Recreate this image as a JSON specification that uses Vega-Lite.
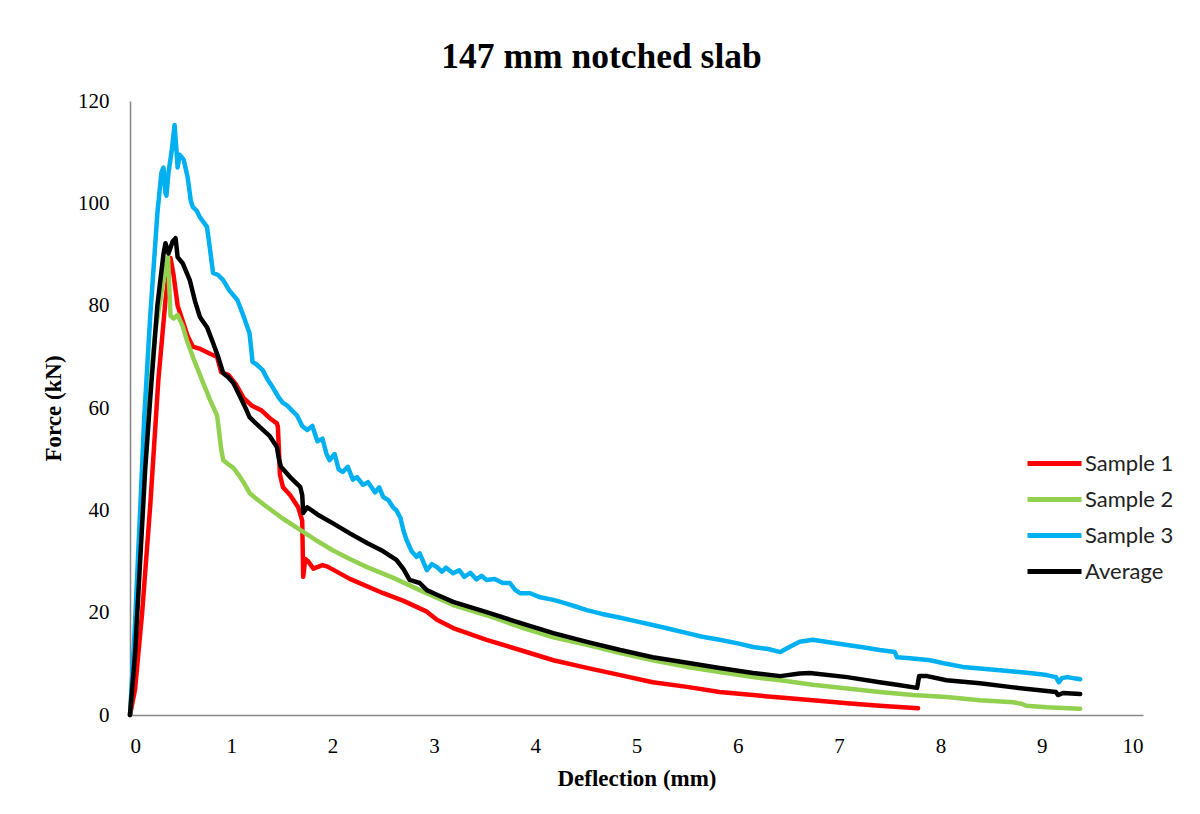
{
  "$schema": "https://vega.github.io/schema/vega-lite/v6.json",
  "width": 1013,
  "height": 614,
  "autosize": {"type": "none"},
  "padding": {"left": 130, "top": 101, "right": 57, "bottom": 99},
  "background": "white",
  "title": {"text": "147 mm notched slab", "font": "Liberation Serif", "fontSize": 35.5, "fontWeight": "bold", "color": "black", "anchor": "middle", "frame": "group", "dx": -35, "offset": 15},
  "config": {"view": {"stroke": null}},
  "data": {"values": [
    {"series":"Sample 1","x":0,"y":0},{"series":"Sample 1","x":0.05,"y":5},{"series":"Sample 1","x":0.12,"y":20},{"series":"Sample 1","x":0.2,"y":41},{"series":"Sample 1","x":0.28,"y":65.5},{"series":"Sample 1","x":0.35,"y":81},{"series":"Sample 1","x":0.4,"y":89.3},{"series":"Sample 1","x":0.43,"y":86},{"series":"Sample 1","x":0.47,"y":80},{"series":"Sample 1","x":0.52,"y":77},{"series":"Sample 1","x":0.57,"y":74},{"series":"Sample 1","x":0.62,"y":72},{"series":"Sample 1","x":0.7,"y":71.5},{"series":"Sample 1","x":0.8,"y":70.5},{"series":"Sample 1","x":0.86,"y":70},{"series":"Sample 1","x":0.9,"y":67},{"series":"Sample 1","x":0.97,"y":66.5},{"series":"Sample 1","x":1.05,"y":64.5},{"series":"Sample 1","x":1.12,"y":62},{"series":"Sample 1","x":1.2,"y":60.5},{"series":"Sample 1","x":1.3,"y":59.5},{"series":"Sample 1","x":1.38,"y":58},{"series":"Sample 1","x":1.45,"y":57},{"series":"Sample 1","x":1.46,"y":56.3},{"series":"Sample 1","x":1.48,"y":47},{"series":"Sample 1","x":1.51,"y":44.5},{"series":"Sample 1","x":1.58,"y":43},{"series":"Sample 1","x":1.66,"y":40.6},{"series":"Sample 1","x":1.7,"y":38},{"series":"Sample 1","x":1.71,"y":27},{"series":"Sample 1","x":1.73,"y":30.5},{"series":"Sample 1","x":1.76,"y":30},{"series":"Sample 1","x":1.81,"y":28.6},{"series":"Sample 1","x":1.9,"y":29.3},{"series":"Sample 1","x":1.95,"y":29},{"series":"Sample 1","x":2.17,"y":26.6},{"series":"Sample 1","x":2.5,"y":23.8},{"series":"Sample 1","x":2.7,"y":22.3},{"series":"Sample 1","x":2.93,"y":20.2},{"series":"Sample 1","x":3.03,"y":18.6},{"series":"Sample 1","x":3.19,"y":17},{"series":"Sample 1","x":3.52,"y":14.7},{"series":"Sample 1","x":3.85,"y":12.7},{"series":"Sample 1","x":4.18,"y":10.7},{"series":"Sample 1","x":4.51,"y":9.2},{"series":"Sample 1","x":4.84,"y":7.8},{"series":"Sample 1","x":5.16,"y":6.4},{"series":"Sample 1","x":5.5,"y":5.5},{"series":"Sample 1","x":5.82,"y":4.5},{"series":"Sample 1","x":6.15,"y":3.9},{"series":"Sample 1","x":6.42,"y":3.4},{"series":"Sample 1","x":6.74,"y":2.9},{"series":"Sample 1","x":7.08,"y":2.3},{"series":"Sample 1","x":7.4,"y":1.8},{"series":"Sample 1","x":7.78,"y":1.3},

    {"series":"Sample 2","x":0,"y":0},{"series":"Sample 2","x":0.05,"y":14},{"series":"Sample 2","x":0.1,"y":34},{"series":"Sample 2","x":0.15,"y":54},{"series":"Sample 2","x":0.25,"y":75},{"series":"Sample 2","x":0.33,"y":85},{"series":"Sample 2","x":0.375,"y":89.5},{"series":"Sample 2","x":0.4,"y":78},{"series":"Sample 2","x":0.43,"y":77.5},{"series":"Sample 2","x":0.47,"y":78.2},{"series":"Sample 2","x":0.52,"y":76},{"series":"Sample 2","x":0.56,"y":73.3},{"series":"Sample 2","x":0.62,"y":70},{"series":"Sample 2","x":0.66,"y":68},{"series":"Sample 2","x":0.72,"y":65},{"series":"Sample 2","x":0.79,"y":61.6},{"series":"Sample 2","x":0.86,"y":58.5},{"series":"Sample 2","x":0.9,"y":52},{"series":"Sample 2","x":0.92,"y":49.8},{"series":"Sample 2","x":0.97,"y":49},{"series":"Sample 2","x":1.02,"y":48.3},{"series":"Sample 2","x":1.07,"y":47},{"series":"Sample 2","x":1.12,"y":45.5},{"series":"Sample 2","x":1.18,"y":43.4},{"series":"Sample 2","x":1.25,"y":42.2},{"series":"Sample 2","x":1.35,"y":40.7},{"series":"Sample 2","x":1.5,"y":38.5},{"series":"Sample 2","x":1.68,"y":36.2},{"series":"Sample 2","x":1.85,"y":34},{"series":"Sample 2","x":2.0,"y":32.2},{"series":"Sample 2","x":2.17,"y":30.5},{"series":"Sample 2","x":2.34,"y":28.9},{"series":"Sample 2","x":2.6,"y":26.8},{"series":"Sample 2","x":2.86,"y":24.4},{"series":"Sample 2","x":3.19,"y":21.5},{"series":"Sample 2","x":3.52,"y":19.5},{"series":"Sample 2","x":3.85,"y":17.2},{"series":"Sample 2","x":4.18,"y":15.2},{"series":"Sample 2","x":4.51,"y":13.7},{"series":"Sample 2","x":4.84,"y":12.1},{"series":"Sample 2","x":5.16,"y":10.7},{"series":"Sample 2","x":5.5,"y":9.4},{"series":"Sample 2","x":5.82,"y":8.4},{"series":"Sample 2","x":6.15,"y":7.4},{"series":"Sample 2","x":6.42,"y":6.8},{"series":"Sample 2","x":6.74,"y":5.9},{"series":"Sample 2","x":7.08,"y":5.2},{"series":"Sample 2","x":7.4,"y":4.5},{"series":"Sample 2","x":7.73,"y":3.9},{"series":"Sample 2","x":8.06,"y":3.5},{"series":"Sample 2","x":8.39,"y":2.9},{"series":"Sample 2","x":8.72,"y":2.5},{"series":"Sample 2","x":8.8,"y":2.2},{"series":"Sample 2","x":8.85,"y":1.8},{"series":"Sample 2","x":9.05,"y":1.5},{"series":"Sample 2","x":9.38,"y":1.2},

    {"series":"Sample 3","x":0,"y":0},{"series":"Sample 3","x":0.05,"y":18},{"series":"Sample 3","x":0.1,"y":40},{"series":"Sample 3","x":0.14,"y":58},{"series":"Sample 3","x":0.2,"y":78},{"series":"Sample 3","x":0.27,"y":98},{"series":"Sample 3","x":0.31,"y":106},{"series":"Sample 3","x":0.33,"y":107},{"series":"Sample 3","x":0.35,"y":102},{"series":"Sample 3","x":0.36,"y":101.5},{"series":"Sample 3","x":0.38,"y":106},{"series":"Sample 3","x":0.41,"y":110},{"series":"Sample 3","x":0.44,"y":115.3},{"series":"Sample 3","x":0.46,"y":110},{"series":"Sample 3","x":0.47,"y":107},{"series":"Sample 3","x":0.49,"y":109.5},{"series":"Sample 3","x":0.53,"y":108.5},{"series":"Sample 3","x":0.57,"y":105},{"series":"Sample 3","x":0.6,"y":100.5},{"series":"Sample 3","x":0.62,"y":99.3},{"series":"Sample 3","x":0.66,"y":98.5},{"series":"Sample 3","x":0.69,"y":97.3},{"series":"Sample 3","x":0.76,"y":95.4},{"series":"Sample 3","x":0.79,"y":91},{"series":"Sample 3","x":0.82,"y":86.4},{"series":"Sample 3","x":0.87,"y":86},{"series":"Sample 3","x":0.92,"y":85},{"series":"Sample 3","x":0.98,"y":83},{"series":"Sample 3","x":1.06,"y":81.1},{"series":"Sample 3","x":1.12,"y":78},{"series":"Sample 3","x":1.18,"y":74.6},{"series":"Sample 3","x":1.21,"y":69},{"series":"Sample 3","x":1.25,"y":68.5},{"series":"Sample 3","x":1.31,"y":67.4},{"series":"Sample 3","x":1.36,"y":65.5},{"series":"Sample 3","x":1.41,"y":64},{"series":"Sample 3","x":1.47,"y":62},{"series":"Sample 3","x":1.51,"y":61},{"series":"Sample 3","x":1.55,"y":60.5},{"series":"Sample 3","x":1.6,"y":59.5},{"series":"Sample 3","x":1.65,"y":58.5},{"series":"Sample 3","x":1.7,"y":56.5},{"series":"Sample 3","x":1.75,"y":55.7},{"series":"Sample 3","x":1.8,"y":56.5},{"series":"Sample 3","x":1.85,"y":53.5},{"series":"Sample 3","x":1.9,"y":54},{"series":"Sample 3","x":1.94,"y":51},{"series":"Sample 3","x":1.97,"y":49.8},{"series":"Sample 3","x":2.02,"y":51},{"series":"Sample 3","x":2.06,"y":48},{"series":"Sample 3","x":2.1,"y":47.5},{"series":"Sample 3","x":2.15,"y":48.5},{"series":"Sample 3","x":2.2,"y":46},{"series":"Sample 3","x":2.24,"y":46.5},{"series":"Sample 3","x":2.3,"y":45},{"series":"Sample 3","x":2.35,"y":45.5},{"series":"Sample 3","x":2.42,"y":43.5},{"series":"Sample 3","x":2.46,"y":44.5},{"series":"Sample 3","x":2.5,"y":42.6},{"series":"Sample 3","x":2.55,"y":42},{"series":"Sample 3","x":2.6,"y":40.5},{"series":"Sample 3","x":2.63,"y":40},{"series":"Sample 3","x":2.67,"y":38.5},{"series":"Sample 3","x":2.7,"y":36},{"series":"Sample 3","x":2.73,"y":34.2},{"series":"Sample 3","x":2.78,"y":32},{"series":"Sample 3","x":2.83,"y":30.9},{"series":"Sample 3","x":2.86,"y":31.6},{"series":"Sample 3","x":2.93,"y":28.3},{"series":"Sample 3","x":2.98,"y":29.5},{"series":"Sample 3","x":3.03,"y":28.9},{"series":"Sample 3","x":3.08,"y":28},{"series":"Sample 3","x":3.12,"y":28.8},{"series":"Sample 3","x":3.19,"y":27.7},{"series":"Sample 3","x":3.25,"y":28.3},{"series":"Sample 3","x":3.3,"y":27},{"series":"Sample 3","x":3.36,"y":27.8},{"series":"Sample 3","x":3.42,"y":26.5},{"series":"Sample 3","x":3.47,"y":27.2},{"series":"Sample 3","x":3.52,"y":26.4},{"series":"Sample 3","x":3.6,"y":26.6},{"series":"Sample 3","x":3.68,"y":25.8},{"series":"Sample 3","x":3.75,"y":25.8},{"series":"Sample 3","x":3.8,"y":24.5},{"series":"Sample 3","x":3.85,"y":23.8},{"series":"Sample 3","x":3.95,"y":23.8},{"series":"Sample 3","x":4.05,"y":23},{"series":"Sample 3","x":4.18,"y":22.5},{"series":"Sample 3","x":4.3,"y":21.8},{"series":"Sample 3","x":4.4,"y":21.2},{"series":"Sample 3","x":4.51,"y":20.5},{"series":"Sample 3","x":4.65,"y":19.8},{"series":"Sample 3","x":4.84,"y":19},{"series":"Sample 3","x":5.0,"y":18.3},{"series":"Sample 3","x":5.16,"y":17.6},{"series":"Sample 3","x":5.33,"y":16.8},{"series":"Sample 3","x":5.5,"y":16},{"series":"Sample 3","x":5.65,"y":15.3},{"series":"Sample 3","x":5.82,"y":14.7},{"series":"Sample 3","x":6.0,"y":14},{"series":"Sample 3","x":6.15,"y":13.3},{"series":"Sample 3","x":6.3,"y":12.9},{"series":"Sample 3","x":6.42,"y":12.3},{"series":"Sample 3","x":6.5,"y":13.2},{"series":"Sample 3","x":6.61,"y":14.3},{"series":"Sample 3","x":6.74,"y":14.7},{"series":"Sample 3","x":6.9,"y":14.2},{"series":"Sample 3","x":7.08,"y":13.7},{"series":"Sample 3","x":7.25,"y":13.2},{"series":"Sample 3","x":7.4,"y":12.7},{"series":"Sample 3","x":7.55,"y":12.3},{"series":"Sample 3","x":7.57,"y":11.3},{"series":"Sample 3","x":7.7,"y":11.1},{"series":"Sample 3","x":7.9,"y":10.7},{"series":"Sample 3","x":8.06,"y":10},{"series":"Sample 3","x":8.22,"y":9.4},{"series":"Sample 3","x":8.39,"y":9.1},{"series":"Sample 3","x":8.56,"y":8.8},{"series":"Sample 3","x":8.72,"y":8.5},{"series":"Sample 3","x":8.88,"y":8.2},{"series":"Sample 3","x":9.05,"y":7.8},{"series":"Sample 3","x":9.14,"y":7.4},{"series":"Sample 3","x":9.17,"y":6.4},{"series":"Sample 3","x":9.2,"y":7.2},{"series":"Sample 3","x":9.25,"y":7.4},{"series":"Sample 3","x":9.38,"y":7},

    {"series":"Average","x":0,"y":0},{"series":"Average","x":0.05,"y":12},{"series":"Average","x":0.1,"y":30},{"series":"Average","x":0.15,"y":48},{"series":"Average","x":0.2,"y":62},{"series":"Average","x":0.27,"y":80},{"series":"Average","x":0.33,"y":90},{"series":"Average","x":0.35,"y":92.2},{"series":"Average","x":0.38,"y":90.2},{"series":"Average","x":0.42,"y":92.5},{"series":"Average","x":0.45,"y":93.2},{"series":"Average","x":0.47,"y":89.5},{"series":"Average","x":0.52,"y":88.3},{"series":"Average","x":0.59,"y":85},{"series":"Average","x":0.64,"y":81},{"series":"Average","x":0.69,"y":77.8},{"series":"Average","x":0.76,"y":75.8},{"series":"Average","x":0.82,"y":72.7},{"series":"Average","x":0.87,"y":70},{"series":"Average","x":0.92,"y":66.8},{"series":"Average","x":0.97,"y":66},{"series":"Average","x":1.02,"y":64.9},{"series":"Average","x":1.08,"y":62.5},{"series":"Average","x":1.15,"y":59.6},{"series":"Average","x":1.18,"y":58.2},{"series":"Average","x":1.28,"y":56.3},{"series":"Average","x":1.38,"y":54.5},{"series":"Average","x":1.45,"y":52.4},{"series":"Average","x":1.47,"y":50},{"series":"Average","x":1.49,"y":48.5},{"series":"Average","x":1.58,"y":46.5},{"series":"Average","x":1.68,"y":44.6},{"series":"Average","x":1.7,"y":43},{"series":"Average","x":1.71,"y":39.5},{"series":"Average","x":1.75,"y":40.6},{"series":"Average","x":1.85,"y":39.2},{"series":"Average","x":2.0,"y":37.5},{"series":"Average","x":2.17,"y":35.5},{"series":"Average","x":2.34,"y":33.6},{"series":"Average","x":2.5,"y":32},{"series":"Average","x":2.63,"y":30.3},{"series":"Average","x":2.7,"y":28.5},{"series":"Average","x":2.76,"y":26.4},{"series":"Average","x":2.86,"y":25.8},{"series":"Average","x":2.93,"y":24.4},{"series":"Average","x":3.03,"y":23.5},{"series":"Average","x":3.19,"y":22.1},{"series":"Average","x":3.52,"y":20.1},{"series":"Average","x":3.85,"y":18},{"series":"Average","x":4.18,"y":16},{"series":"Average","x":4.51,"y":14.3},{"series":"Average","x":4.84,"y":12.7},{"series":"Average","x":5.16,"y":11.3},{"series":"Average","x":5.5,"y":10.2},{"series":"Average","x":5.82,"y":9.2},{"series":"Average","x":6.15,"y":8.2},{"series":"Average","x":6.42,"y":7.6},{"series":"Average","x":6.61,"y":8.1},{"series":"Average","x":6.71,"y":8.2},{"series":"Average","x":7.08,"y":7.4},{"series":"Average","x":7.4,"y":6.4},{"series":"Average","x":7.57,"y":5.9},{"series":"Average","x":7.77,"y":5.3},{"series":"Average","x":7.79,"y":7.6},{"series":"Average","x":7.87,"y":7.6},{"series":"Average","x":8.06,"y":6.8},{"series":"Average","x":8.39,"y":6.2},{"series":"Average","x":8.72,"y":5.4},{"series":"Average","x":9.05,"y":4.7},{"series":"Average","x":9.14,"y":4.5},{"series":"Average","x":9.16,"y":3.9},{"series":"Average","x":9.21,"y":4.3},{"series":"Average","x":9.38,"y":4.1}
  ]},
  "mark": {"type": "line", "strokeWidth": 4.5, "strokeJoin": "round", "strokeCap": "round"},
  "encoding": {
    "x": {"field": "x", "type": "quantitative",
      "scale": {"domain": [0, 10], "nice": false, "zero": true},
      "axis": {"title": "Deflection (mm)", "values": [0,1,2,3,4,5,6,7,8,9,10], "grid": false, "ticks": false,
        "domainColor": "#868686", "domainWidth": 1.5,
        "labelFont": "Liberation Serif", "labelFontSize": 21, "labelColor": "#000000", "labelPadding": 20,
        "titleFont": "Liberation Serif", "titleFontSize": 23, "titleFontWeight": "bold", "titleColor": "#000000", "titlePadding": 11}},
    "y": {"field": "y", "type": "quantitative",
      "scale": {"domain": [0, 120], "nice": false},
      "axis": {"title": "Force (kN)", "values": [0,20,40,60,80,100,120], "grid": false, "ticks": false,
        "domainColor": "#868686", "domainWidth": 1.5,
        "labelFont": "Liberation Serif", "labelFontSize": 21, "labelColor": "#000000", "labelPadding": 21,
        "titleFont": "Liberation Serif", "titleFontSize": 23, "titleFontWeight": "bold", "titleColor": "#000000", "titlePadding": 12}},
    "color": {"field": "series", "type": "nominal",
      "scale": {"domain": ["Sample 1", "Sample 2", "Sample 3", "Average"], "range": ["#FF0000", "#92D050", "#00B0F0", "#000000"]},
      "legend": {"title": null, "orient": "none", "legendX": 913, "legendY": 342, "padding": 0,
        "symbolType": "M-2,0H1", "symbolSize": 1296, "symbolStrokeWidth": 5,
        "labelFont": "Lato", "labelFontSize": 22, "labelColor": "#222222", "labelOffset": 1, "rowPadding": 4}}
  }
}
